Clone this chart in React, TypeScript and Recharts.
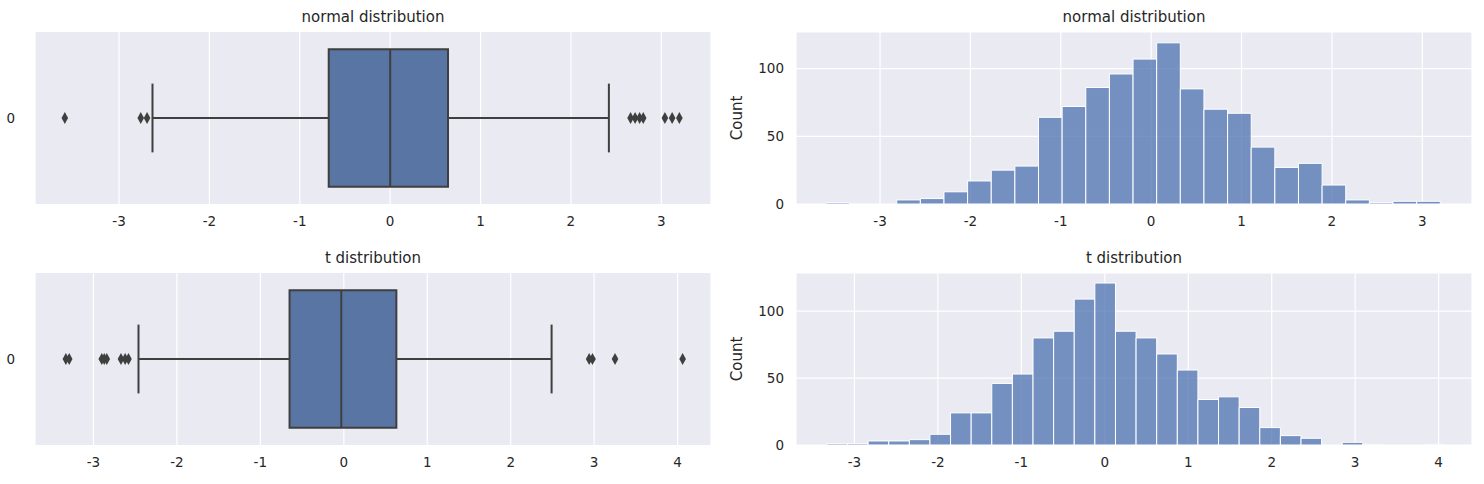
import React from "react";
import {
  ComposedChart,
  Scatter,
  XAxis,
  YAxis,
  CartesianGrid,
  ReferenceArea,
  ReferenceLine,
} from "recharts";

// box plot stats
const normalBox = { q1: -0.68, median: 0, q3: 0.64, lo: -2.63, hi: 2.42 };
const normalOutliers = [-3.6, -2.76, -2.69, 2.66, 2.71, 2.76, 2.8, 3.04, 3.12, 3.2];
const tBox = { q1: -0.65, median: -0.03, q3: 0.63, lo: -2.46, hi: 2.49 };
const tOutliers = [-3.33, -3.29, -2.9, -2.87, -2.84, -2.67, -2.62, -2.58, 2.94, 2.98, 3.25, 4.06];

// histogram counts
const normalCounts = [1, 0, 0, 3, 4, 9, 17, 25, 28, 64, 72, 86, 96, 107, 119, 85, 70, 67, 42, 27, 30, 14, 3, 1, 2, 2];
const normalBinStart = -3.6;
const normalBinWidth = 0.2615;
const tCounts = [1, 1, 3, 3, 4, 8, 24, 24, 46, 53, 80, 85, 109, 121, 85, 80, 68, 56, 34, 36, 28, 13, 7, 5, 0, 2, 0.5, 0, 0, 0.5];
const tBinStart = -3.33;
const tBinWidth = 0.247;

const normalTicks = [-3, -2, -1, 0, 1, 2, 3];
const tTicks = [-3, -2, -1, 0, 1, 2, 3, 4];
const countTicks = [0, 50, 100];

const BG = "#eaeaf2";
const TXT = "#262626";
const LINE = "#3f3f3f";
const FONT = "'DejaVu Sans', sans-serif";
const tickStyle = { fill: TXT, fontSize: 13.5, fontFamily: FONT };

const Diamond = (props: any) => {
  const { cx, cy } = props;
  return <path d={`M${cx},${cy - 6} L${cx + 3.3},${cy} L${cx},${cy + 6} L${cx - 3.3},${cy} Z`} fill={LINE} />;
};

const Title = ({ text, left, top, width }: any) => (
  <div style={{ position: "absolute", left, top, width, textAlign: "center", fontFamily: FONT, fontSize: 15, color: TXT }}>
    {text}
  </div>
);

const BoxPanel = ({ top, stats, outliers, domain, ticks }: any) => (
  <div style={{ position: "absolute", left: 0, top }}>
    <ComposedChart width={742} height={242} margin={{ top: 32, right: 31, bottom: 0, left: 0 }} data={outliers.map((v: number) => ({ x: v, y: 0 }))}>
      <CartesianGrid fill={BG} stroke="#fff" strokeWidth={1.2} horizontal={false} />
      <XAxis type="number" dataKey="x" domain={domain} ticks={ticks} allowDataOverflow axisLine={false} tickLine={false} tick={tickStyle} height={38} tickMargin={6} />
      <YAxis type="number" dataKey="y" domain={[-0.5, 0.5]} ticks={[0]} axisLine={false} tickLine={false} tick={tickStyle} width={35} tickMargin={14} />
      <ReferenceLine segment={[{ x: stats.lo, y: 0 }, { x: stats.q1, y: 0 }]} stroke={LINE} strokeWidth={2} />
      <ReferenceLine segment={[{ x: stats.q3, y: 0 }, { x: stats.hi, y: 0 }]} stroke={LINE} strokeWidth={2} />
      <ReferenceLine segment={[{ x: stats.lo, y: -0.2 }, { x: stats.lo, y: 0.2 }]} stroke={LINE} strokeWidth={2} />
      <ReferenceLine segment={[{ x: stats.hi, y: -0.2 }, { x: stats.hi, y: 0.2 }]} stroke={LINE} strokeWidth={2} />
      <ReferenceArea x1={stats.q1} x2={stats.q3} y1={-0.4} y2={0.4} fill="#5875a4" fillOpacity={1} stroke={LINE} strokeWidth={2} />
      <ReferenceLine segment={[{ x: stats.median, y: -0.4 }, { x: stats.median, y: 0.4 }]} stroke={LINE} strokeWidth={2} />
      <Scatter dataKey="y" shape={<Diamond />} isAnimationActive={false} />
    </ComposedChart>
  </div>
);

const HistPanel = ({ top, counts, start, width, domain, ticks, yMax }: any) => {
  const bins = counts.map((c: number, i: number) => ({ x0: start + i * width, x1: start + (i + 1) * width, c }));
  return (
    <div style={{ position: "absolute", left: 724, top }}>
      <ComposedChart width={760} height={242} margin={{ top: 32, right: 12, bottom: 0, left: 0 }} data={bins.map((b: any) => ({ x: (b.x0 + b.x1) / 2, y: 0 }))}>
        <CartesianGrid fill={BG} stroke="#fff" strokeWidth={1.2} />
        <XAxis type="number" dataKey="x" domain={domain} ticks={ticks} allowDataOverflow axisLine={false} tickLine={false} tick={tickStyle} height={38} tickMargin={6} />
        <YAxis type="number" domain={[0, yMax]} ticks={countTicks} allowDataOverflow axisLine={false} tickLine={false} tick={tickStyle} width={72} tickMargin={6} />
        {bins.map((b: any, i: number) =>
          b.c > 0 ? (
            <ReferenceArea key={i} x1={b.x0} x2={b.x1} y1={0} y2={b.c} fill="#4c72b0" fillOpacity={0.75} stroke="#fff" strokeWidth={1} strokeOpacity={1} />
          ) : null
        )}
        <Scatter dataKey="y" shape={() => <g />} isAnimationActive={false} />
      </ComposedChart>
      <div style={{ position: "absolute", left: 13, top: 32 + (204 - 32) / 2 - 9, transform: "translateX(-50%) rotate(-90deg)", fontFamily: FONT, fontSize: 15, color: TXT }}>
        Count
      </div>
    </div>
  );
};

export default function App() {
  return (
    <div style={{ position: "absolute", left: 0, top: 0, width: 1484, height: 484, background: "#fff" }}>
      <BoxPanel top={0} stats={normalBox} outliers={normalOutliers} domain={[-3.93, 3.55]} ticks={normalTicks} />
      <BoxPanel top={241} stats={tBox} outliers={tOutliers} domain={[-3.7, 4.4]} ticks={tTicks} />
      <HistPanel top={0} counts={normalCounts} start={normalBinStart} width={normalBinWidth} domain={[-3.93, 3.55]} ticks={normalTicks} yMax={127} />
      <HistPanel top={241} counts={tCounts} start={tBinStart} width={tBinWidth} domain={[-3.7, 4.4]} ticks={tTicks} yMax={128.5} />
      <Title text="normal distribution" left={35} top={8} width={676} />
      <Title text="t distribution" left={35} top={249} width={676} />
      <Title text="normal distribution" left={796} top={8} width={676} />
      <Title text="t distribution" left={796} top={249} width={676} />
    </div>
  );
}
